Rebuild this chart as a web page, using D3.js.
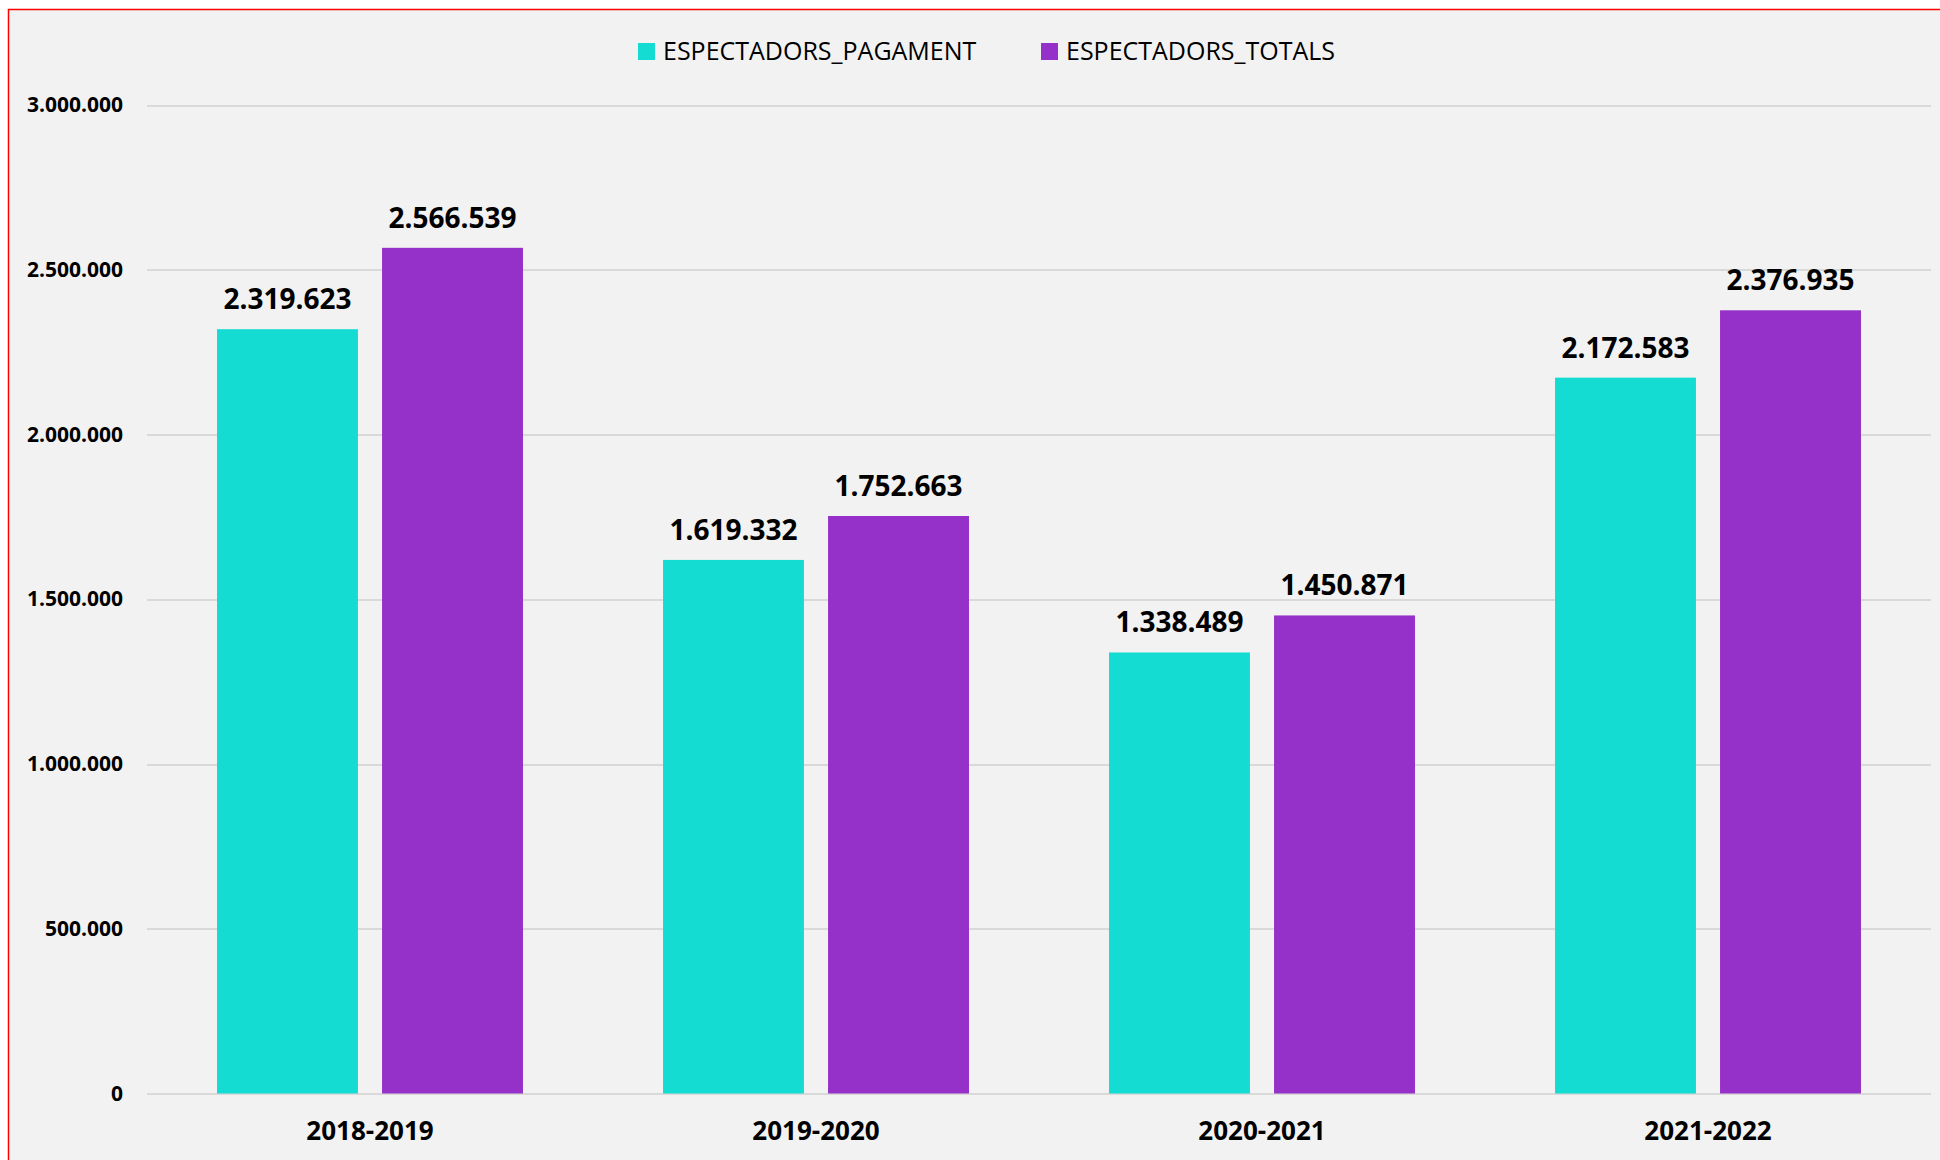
<!DOCTYPE html>
<html lang="ca">
<head>
<meta charset="UTF-8">
<title>Espectadors</title>
<script src="https://cdn.jsdelivr.net/npm/d3@7"></script>
<style>
    body { margin: 0; background: #ffffff; }
    .axis text { font-family: "Open Sans", sans-serif; font-weight: bold; fill: #000; }
    .axis path { display: none; }
    .y.axis line { stroke: #d9d9d9; stroke-width: 2px; shape-rendering: crispEdges; }
    .x.axis line { display: none; }
</style>
</head>
<body>
<div id="output"></div>
<script>

// data
var seasons = ["2018-2019", "2019-2020", "2020-2021", "2021-2022"];
var seriesNames = ["ESPECTADORS_PAGAMENT", "ESPECTADORS_TOTALS"];
var pagament = [2319623, 1619332, 1338489, 2172583];
var totals = [2566539, 1752663, 1450871, 2376935];
var yTicks = [0, 500000, 1000000, 1500000, 2000000, 2500000, 3000000];

var colors = ["#15dcd3", "#9530c8"];

var w = 1940;
var h = 1160;
var plotLeft = 147, plotRight = 1931, plotTop = 105, plotBottom = 1093.5;

var svg = d3.select("#output")
            .append("svg")
            .attr("width", w)
            .attr("height", h);

// chart area with red frame
svg.append("rect")
    .attr("x", 8.5).attr("y", 9.5)
    .attr("width", w).attr("height", h)
    .attr("fill", "#f2f2f2")
    .attr("stroke", "#ff0000")
    .attr("stroke-width", 1.5);

var locale = d3.formatLocale({ decimal: ",", thousands: ".", grouping: [3], currency: ["", ""] });
var fmt = locale.format(",");

var rows = seasons.map(function(s, i) {
    return { season: s, values: [pagament[i], totals[i]] };
});

var x0 = d3.scaleBand()
        .domain(seasons)
        .range([plotLeft, plotRight])
        .paddingInner(0.314)
        .paddingOuter(0.157);

var x1 = d3.scaleBand()
        .domain([0, 1])
        .range([0, x0.bandwidth()])
        .paddingInner(0.146);

var yScale = d3.scaleLinear()
        .domain([0, 3000000])
        .range([plotBottom, plotTop]);

// y axis + gridlines
var yAxis = svg.append("g")
        .attr("class", "y axis")
        .attr("transform", "translate(" + plotLeft + ",0)")
        .call(d3.axisLeft(yScale)
            .tickValues(yTicks)
            .tickSize(-(plotRight - plotLeft))
            .tickPadding(24)
            .tickFormat(fmt));
yAxis.selectAll("text").style("font-size", "21px");

// x axis
var xAxis = svg.append("g")
        .attr("class", "x axis")
        .attr("transform", "translate(0," + plotBottom + ")")
        .call(d3.axisBottom(x0).tickSize(0).tickPadding(28));
xAxis.selectAll("text").style("font-size", "26px");

// bars
var groups = svg.append("g").selectAll("g")
        .data(rows)
        .enter()
        .append("g")
        .attr("transform", function(d){ return "translate(" + x0(d.season) + ",0)"; });

groups.selectAll("rect")
        .data(function(d){ return d.values; })
        .enter()
        .append("rect")
            .attr("x", function(d, i){ return x1(i); })
            .attr("y", function(d){ return yScale(d); })
            .attr("width", x1.bandwidth())
            .attr("height", function(d){ return yScale(0) - yScale(d); })
            .attr("fill", function(d, i){ return colors[i]; });

groups.selectAll("text")
        .data(function(d){ return d.values; })
        .enter()
        .append("text")
            .attr("x", function(d, i){ return x1(i) + x1.bandwidth() / 2; })
            .attr("y", function(d){ return yScale(d) - 20; })
            .attr("text-anchor", "middle")
            .style("font-family", "Open Sans, sans-serif")
            .style("font-weight", "bold")
            .style("font-size", "28px")
            .text(function(d){ return fmt(d); });

// legend
var legendX = [638, 1041];
var legend = svg.append("g").selectAll("g")
        .data(seriesNames)
        .enter()
        .append("g")
        .attr("transform", function(d, i){ return "translate(" + legendX[i] + ",43)"; });

legend.append("rect")
        .attr("width", 17).attr("height", 17)
        .attr("fill", function(d, i){ return colors[i]; });

legend.append("text")
        .attr("x", 25)
        .attr("y", 17)
        .style("font-family", "Open Sans, sans-serif")
        .style("font-size", "25px")
        .style("fill", "#000")
        .text(function(d){ return d; });

</script>
</body>
</html>
